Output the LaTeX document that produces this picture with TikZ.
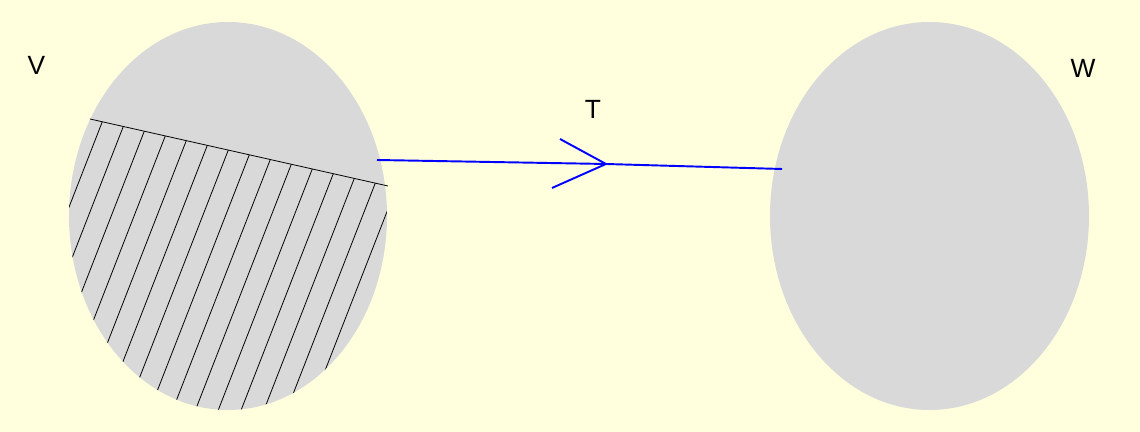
\documentclass[tikz,border=0pt]{standalone}
\usepackage{fontspec}
\setmainfont{Liberation Sans}
\usepackage{tikz}
\usetikzlibrary{calc}
\definecolor{bgyellow}{HTML}{FFFFDE}
\definecolor{setgray}{HTML}{D9D9D9}
\tikzset{
  setlabel/.style={font=\fontsize{15}{17}\selectfont, inner sep=0pt},
  mapline/.style={blue, line width=1.1pt},
  hatch/.style={black, line width=0.45pt}
}
\begin{document}
\begin{tikzpicture}
     \fill [bgyellow] (0,0) rectangle (22.8,8.64);
     \useasboundingbox (0,0) rectangle (22.8,8.64);
     % the two sets
     \fill [setgray] (4.56,4.32) ellipse (3.18cm and 3.88cm);
     \fill [setgray] (18.59,4.32) ellipse (3.19cm and 3.88cm);
     % hatched part of V
     \begin{scope}
       \clip (4.56,4.32) ellipse (3.18cm and 3.88cm);
       \foreach \i in {0,...,14}
         \draw [hatch] ({2.046+0.42*\i},{6.26-(0.246+0.42*\i)*0.2248}) -- ++(-2.73,-7);
     \end{scope}
     \draw [hatch] (1.8,6.26) -- (7.76,4.92);
     % the map T
     \coordinate (from) at (7.54,5.44);
     \coordinate (to) at (15.64,5.26);
     \coordinate (tip) at (12.12,5.36);
     \coordinate (armup) at (11.2,5.86);
     \coordinate (armdown) at (11.04,4.88);
     \draw [mapline] (from) -- (tip) -- (to);
     \draw [mapline] (armup) -- (tip) -- (armdown);
     \node [setlabel] (V) at (0.73,7.33) {V};
     \node [setlabel] (W) at (21.66,7.27) {W};
     \node [setlabel] (T) at (11.86,6.46) {T};
 \end{tikzpicture}
\end{document}
